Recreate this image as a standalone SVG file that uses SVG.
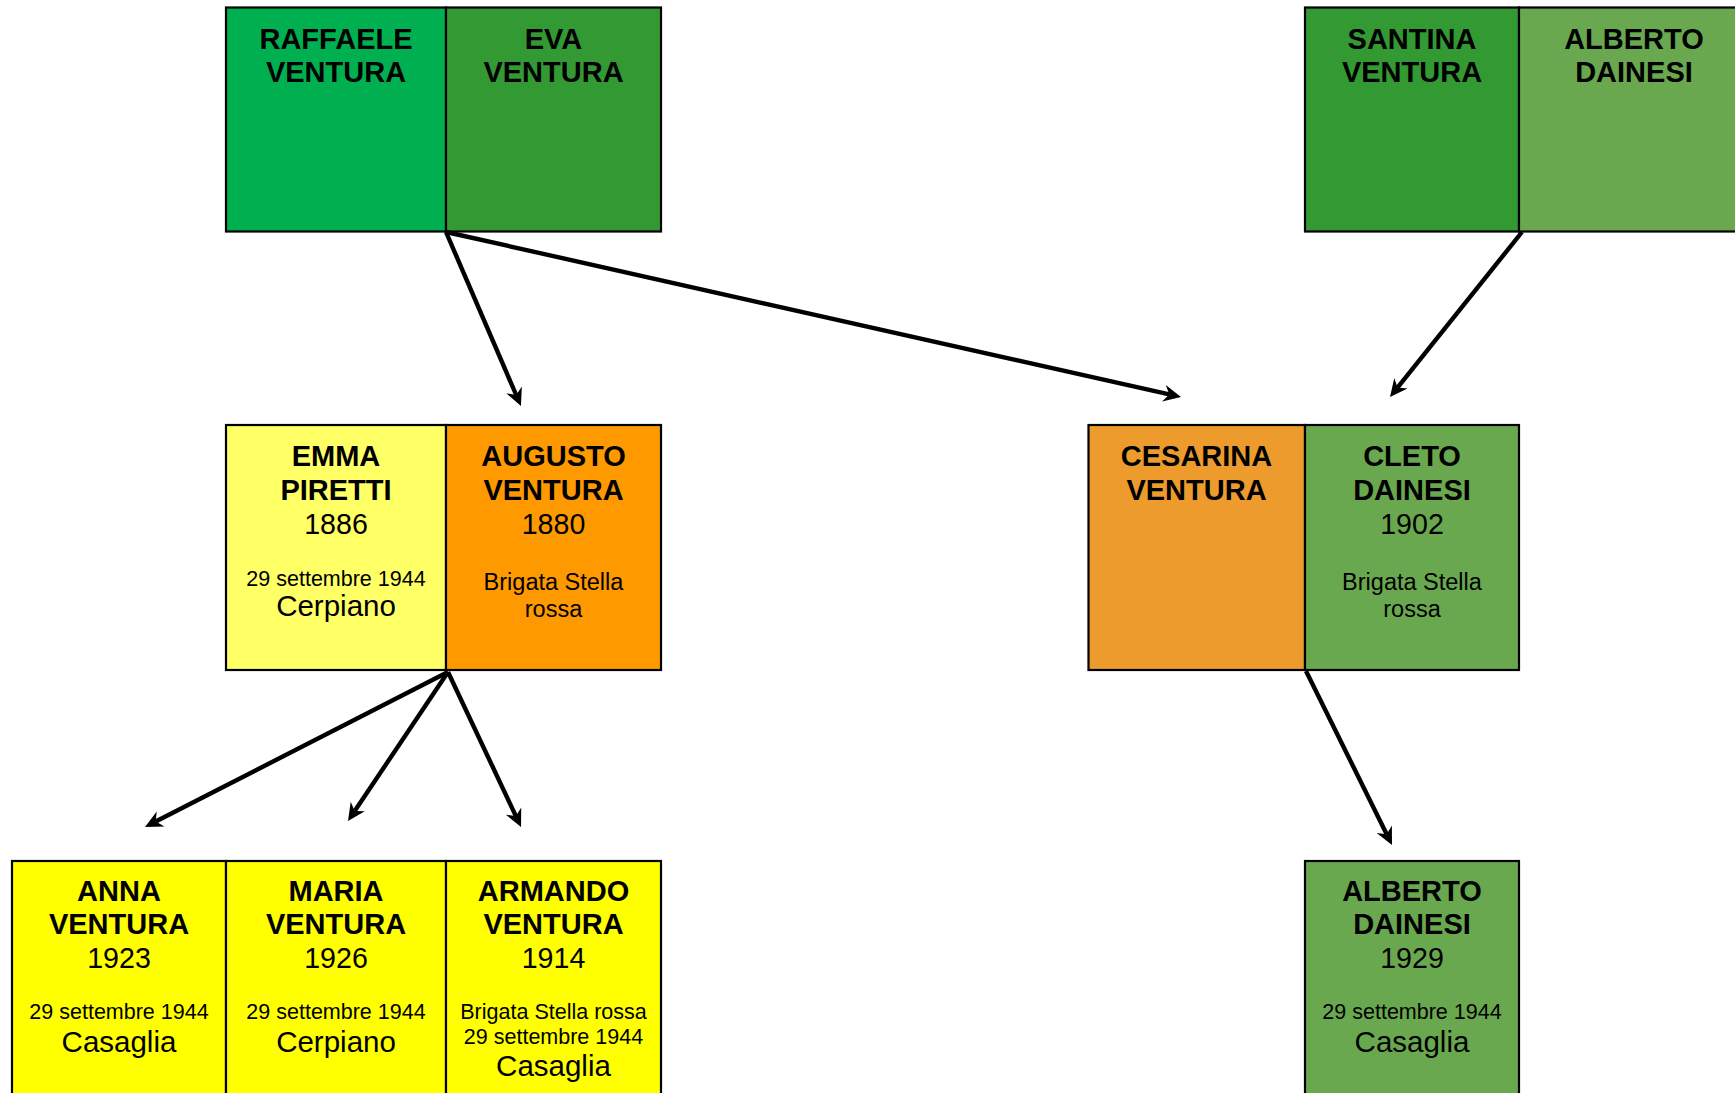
<svg xmlns="http://www.w3.org/2000/svg" width="1735" height="1093" viewBox="0 0 1735 1093">
<style>
.box{stroke:#000;stroke-width:2.2}
.n{font-family:"Liberation Sans",Arial,sans-serif;font-weight:bold;font-size:29px;text-anchor:middle;fill:#000}
.y{font-family:"Liberation Sans",Arial,sans-serif;font-size:28.6px;text-anchor:middle;fill:#000}
.p{font-family:"Liberation Sans",Arial,sans-serif;font-size:29.5px;text-anchor:middle;fill:#000}
.d{font-family:"Liberation Sans",Arial,sans-serif;font-size:21.5px;text-anchor:middle;fill:#000}
.b{font-family:"Liberation Sans",Arial,sans-serif;font-size:23.5px;text-anchor:middle;fill:#000}
.c{stroke:#000;stroke-width:4.4;fill:none;marker-end:url(#ah)}
</style>
<defs>
<marker id="ah" markerUnits="userSpaceOnUse" markerWidth="24" markerHeight="24" viewBox="0 0 24 24" refX="8" refY="12" orient="auto" overflow="visible">
<path d="M20,12 L2.5,3.5 L8,12 L2.5,20.5 Z" fill="#000"/>
</marker>
</defs>
<rect width="1735" height="1093" fill="#fff"/>

<g id="raffaele">
<rect class="box" x="226" y="7.5" width="220" height="224" fill="#00B050"/>
<text class="n" x="336" y="49">RAFFAELE</text>
<text class="n" x="336" y="82">VENTURA</text>
</g>
<g id="eva">
<rect class="box" x="446" y="7.5" width="215" height="224" fill="#339933"/>
<text class="n" x="553.5" y="49">EVA</text>
<text class="n" x="553.5" y="82">VENTURA</text>
</g>
<g id="santina">
<rect class="box" x="1305" y="7.5" width="214" height="224" fill="#339933"/>
<text class="n" x="1412" y="49">SANTINA</text>
<text class="n" x="1412" y="82">VENTURA</text>
</g>
<g id="alberto-sr">
<rect class="box" x="1519" y="7.5" width="232" height="224" fill="#6AA84F"/>
<text class="n" x="1634" y="49">ALBERTO</text>
<text class="n" x="1634" y="82">DAINESI</text>
</g>

<g id="emma">
<rect class="box" x="226" y="425" width="220" height="245" fill="#FFFF66"/>
<text class="n" x="336" y="466">EMMA</text>
<text class="n" x="336" y="500">PIRETTI</text>
<text class="y" x="336" y="534">1886</text>
<text class="d" x="336" y="586">29 settembre 1944</text>
<text class="p" x="336" y="616">Cerpiano</text>
</g>
<g id="augusto">
<rect class="box" x="446" y="425" width="215" height="245" fill="#FF9900"/>
<text class="n" x="553.5" y="466">AUGUSTO</text>
<text class="n" x="553.5" y="500">VENTURA</text>
<text class="y" x="553.5" y="534">1880</text>
<text class="b" x="553.5" y="590">Brigata Stella</text>
<text class="b" x="553.5" y="617">rossa</text>
</g>
<g id="cesarina">
<rect class="box" x="1088.5" y="425" width="216.5" height="245" fill="#EE9B2E"/>
<text class="n" x="1196.5" y="466">CESARINA</text>
<text class="n" x="1196.5" y="500">VENTURA</text>
</g>
<g id="cleto">
<rect class="box" x="1305" y="425" width="214" height="245" fill="#6AA84F"/>
<text class="n" x="1412" y="466">CLETO</text>
<text class="n" x="1412" y="500">DAINESI</text>
<text class="y" x="1412" y="534">1902</text>
<text class="b" x="1412" y="590">Brigata Stella</text>
<text class="b" x="1412" y="617">rossa</text>
</g>

<g id="anna">
<rect class="box" x="12" y="861" width="214" height="250" fill="#FFFF00"/>
<text class="n" x="119" y="901">ANNA</text>
<text class="n" x="119" y="934">VENTURA</text>
<text class="y" x="119" y="968">1923</text>
<text class="d" x="119" y="1019">29 settembre 1944</text>
<text class="p" x="119" y="1052">Casaglia</text>
</g>
<g id="maria">
<rect class="box" x="226" y="861" width="220" height="250" fill="#FFFF00"/>
<text class="n" x="336" y="901">MARIA</text>
<text class="n" x="336" y="934">VENTURA</text>
<text class="y" x="336" y="968">1926</text>
<text class="d" x="336" y="1019">29 settembre 1944</text>
<text class="p" x="336" y="1052">Cerpiano</text>
</g>
<g id="armando">
<rect class="box" x="446" y="861" width="215" height="250" fill="#FFFF00"/>
<text class="n" x="553.5" y="901">ARMANDO</text>
<text class="n" x="553.5" y="934">VENTURA</text>
<text class="y" x="553.5" y="968">1914</text>
<text class="d" x="553.5" y="1019">Brigata Stella rossa</text>
<text class="d" x="553.5" y="1044">29 settembre 1944</text>
<text class="p" x="553.5" y="1076">Casaglia</text>
</g>
<g id="alberto-jr">
<rect class="box" x="1305" y="861" width="214" height="250" fill="#6AA84F"/>
<text class="n" x="1412" y="901">ALBERTO</text>
<text class="n" x="1412" y="934">DAINESI</text>
<text class="y" x="1412" y="968">1929</text>
<text class="d" x="1412" y="1019">29 settembre 1944</text>
<text class="p" x="1412" y="1052">Casaglia</text>
</g>

<g id="connectors">
<line class="c" x1="446" y1="232" x2="516.2" y2="395"/>
<line class="c" x1="446" y1="232" x2="1169.3" y2="394.4"/>
<line class="c" x1="1522" y1="232" x2="1397.5" y2="387.6"/>
<line class="c" x1="448" y1="672" x2="155.7" y2="821.5"/>
<line class="c" x1="448" y1="672" x2="354.7" y2="811"/>
<line class="c" x1="448" y1="672" x2="515.9" y2="816.1"/>
<line class="c" x1="1306" y1="671" x2="1386.7" y2="834.2"/>
</g>
</svg>
